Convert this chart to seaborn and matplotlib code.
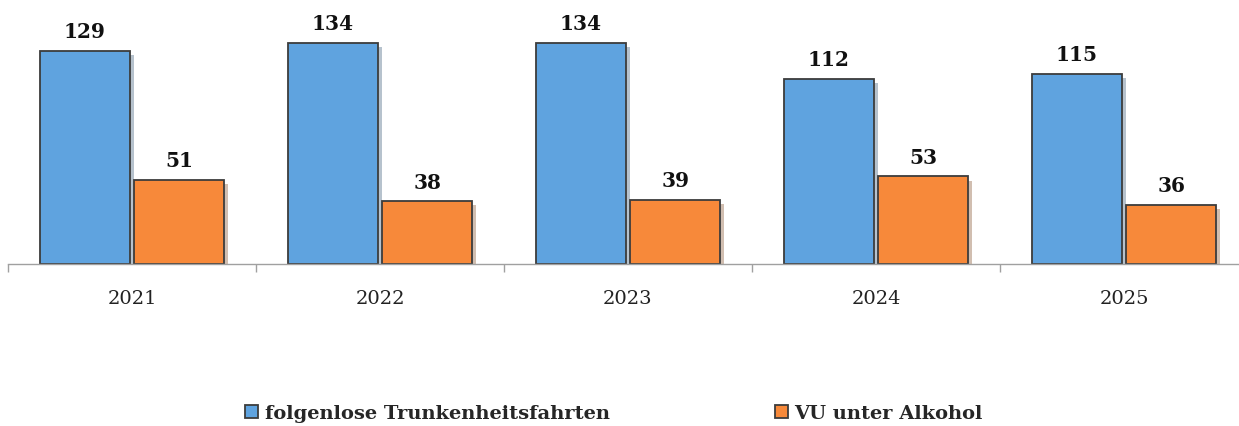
import matplotlib
matplotlib.use("Agg")
import matplotlib.pyplot as plt
import matplotlib.patheffects as pe
import seaborn as sns
import pandas as pd
import numpy as np

years = ["2021", "2022", "2023", "2024", "2025"]
series_names = ["folgenlose Trunkenheitsfahrten", "VU unter Alkohol"]
folgenlose = [129, 134, 134, 112, 115]
vu_alkohol = [51, 38, 39, 53, 36]

df = pd.DataFrame({
    "Jahr": years * 2,
    "Serie": [series_names[0]] * len(years) + [series_names[1]] * len(years),
    "Wert": folgenlose + vu_alkohol,
})

sns.set_theme(style="white")
plt.rcParams["font.family"] = ["DejaVu Serif"]

W, H = 1239, 427
fig = plt.figure(figsize=(W / 100, H / 100), dpi=100)
ax = fig.add_axes([8 / W, (H - 265) / H, 1240 / W, 265 / H])

palette = {series_names[0]: "#5FA3DF", series_names[1]: "#F7893A"}
sns.barplot(data=df, x="Jahr", y="Wert", hue="Serie", palette=palette,
            width=0.76, gap=0.05, edgecolor="#3c3c3c", linewidth=1.3,
            saturation=1, ax=ax, legend=True)

shadow = [pe.SimplePatchShadow(offset=(3, -3), alpha=0.35, rho=0.5), pe.Normal()]
for p in ax.patches:
    p.set_path_effects(shadow)

for cont in ax.containers:
    ax.bar_label(cont, padding=7, fontsize=14.5, fontweight="bold", color="#111111")

ax.set_ylim(0, 160.5)
ax.set_xlim(-0.5, 4.5)
ax.set_xlabel("")
ax.set_ylabel("")
ax.set_yticks([])
for s in ["top", "right", "left"]:
    ax.spines[s].set_visible(False)
ax.spines["bottom"].set_color("#a0a0a0")
ax.spines["bottom"].set_linewidth(1.0)
ax.set_xticks(np.arange(-0.5, 5, 1.0), minor=True)
ax.tick_params(axis="x", which="major", length=0, pad=18, labelsize=14, labelcolor="#222222")
ax.tick_params(axis="x", which="minor", length=6, width=1.0, color="#a0a0a0", bottom=True)

leg = ax.legend_
handles = leg.legend_handles
labels = [t.get_text() for t in leg.get_texts()]
leg.remove()
fig.legend(handles, labels, loc="center", bbox_to_anchor=(0.4955, 13 / H),
           ncol=2, frameon=False, handlelength=0.65, handleheight=0.65, handletextpad=0.35,
           columnspacing=8.5, prop={"weight": "bold", "size": 14})

fig.savefig("out.png", dpi=100)
